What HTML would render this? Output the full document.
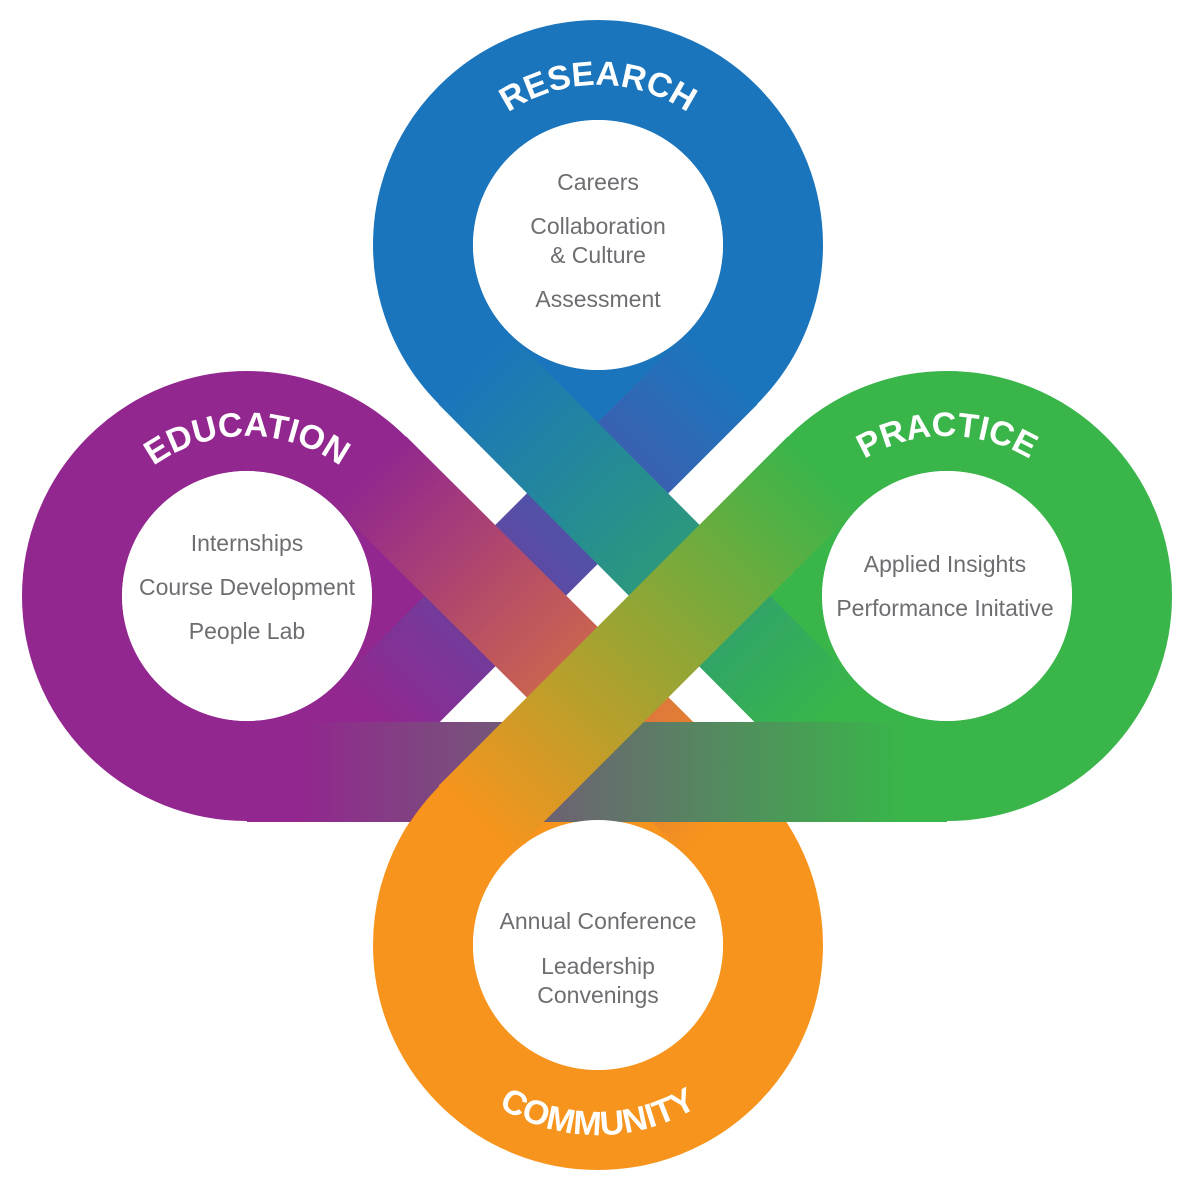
<!DOCTYPE html>
<html><head><meta charset="utf-8"><style>
html,body{margin:0;padding:0;background:#fff;}
svg{display:block;}
.t{font-family:"Liberation Sans",sans-serif;font-size:23px;fill:#6d6e71;text-anchor:middle;}
.h{font-family:"Liberation Sans",sans-serif;font-size:34px;font-weight:bold;fill:#fff;}
</style></head><body>
<svg width="1200" height="1196" viewBox="0 0 1200 1196" xmlns="http://www.w3.org/2000/svg">
<defs>
<linearGradient id="gA" gradientUnits="userSpaceOnUse" x1="474" y1="369" x2="823" y2="720"><stop offset="0" stop-color="#1b75bc"/><stop offset="1" stop-color="#39b54a"/></linearGradient>
<linearGradient id="gB" gradientUnits="userSpaceOnUse" x1="722" y1="369" x2="371" y2="720"><stop offset="0" stop-color="#1b75bc"/><stop offset="1" stop-color="#92278f"/></linearGradient>
<linearGradient id="gC" gradientUnits="userSpaceOnUse" x1="371" y1="472" x2="722" y2="821"><stop offset="0" stop-color="#92278f"/><stop offset="1" stop-color="#f7941d"/></linearGradient>
<linearGradient id="gD" gradientUnits="userSpaceOnUse" x1="823" y1="472" x2="474" y2="821"><stop offset="0" stop-color="#39b54a"/><stop offset="1" stop-color="#f7941d"/></linearGradient>
<linearGradient id="gE" gradientUnits="userSpaceOnUse" x1="300" y1="0" x2="900" y2="0"><stop offset="0" stop-color="#92278f"/><stop offset="1" stop-color="#39b54a"/></linearGradient>
<path id="pR" d="M438,245 A160,160 0 0 1 758,245"/>
<path id="pE" d="M87,596 A160,160 0 0 1 407,596"/>
<path id="pP" d="M787,596 A160,160 0 0 1 1107,596"/>
<path id="pC" d="M408,945 A190,190 0 0 0 788,945"/>
</defs>
<g fill="none" stroke-width="100">
<circle cx="598" cy="245" r="175" stroke="#1b75bc"/>
<circle cx="247" cy="596" r="175" stroke="#92278f"/>
<circle cx="947" cy="596" r="175" stroke="#39b54a"/>
<circle cx="598" cy="945" r="175" stroke="#f7941d"/>
<line x1="722" y1="369" x2="371" y2="720" stroke="url(#gB)"/>
<line x1="371" y1="472" x2="722" y2="821" stroke="url(#gC)"/>
<line x1="474" y1="369" x2="823" y2="720" stroke="url(#gA)"/>
<line x1="247" y1="772" x2="947" y2="772" stroke="url(#gE)"/>
<path d="M434,885 A175,175 0 0 1 498,802" stroke="#f7941d"/>
<line x1="823" y1="472" x2="474" y2="821" stroke="url(#gD)"/>
</g>
<g fill="#fff">
<circle cx="598" cy="245" r="125"/>
<circle cx="247" cy="596" r="125"/>
<circle cx="947" cy="596" r="125"/>
<circle cx="598" cy="945" r="125"/>
</g>
<text class="h"><textPath href="#pR" startOffset="50%" text-anchor="middle">RESEARCH</textPath></text>
<text class="h"><textPath href="#pE" startOffset="50%" text-anchor="middle">EDUCATION</textPath></text>
<text class="h"><textPath href="#pP" startOffset="50%" text-anchor="middle">PRACTICE</textPath></text>
<text class="h"><textPath href="#pC" startOffset="50%" text-anchor="middle">COMMUNITY</textPath></text>
<text class="t" x="598" y="190">Careers</text>
<text class="t" x="598" y="234">Collaboration</text>
<text class="t" x="598" y="263">&amp; Culture</text>
<text class="t" x="598" y="307">Assessment</text>
<text class="t" x="247" y="551">Internships</text>
<text class="t" x="247" y="595">Course Development</text>
<text class="t" x="247" y="639">People Lab</text>
<text class="t" x="945" y="572">Applied Insights</text>
<text class="t" x="945" y="616">Performance Initative</text>
<text class="t" x="598" y="929">Annual Conference</text>
<text class="t" x="598" y="974">Leadership</text>
<text class="t" x="598" y="1003">Convenings</text>
</svg>
</body></html>
